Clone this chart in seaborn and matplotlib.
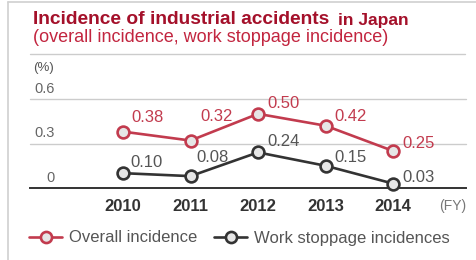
import pandas as pd
import matplotlib.pyplot as plt
import seaborn as sns
from matplotlib.lines import Line2D

years = [2010, 2011, 2012, 2013, 2014]
overall = [0.38, 0.32, 0.50, 0.42, 0.25]
stoppage = [0.10, 0.08, 0.24, 0.15, 0.03]
series_names = ["Overall incidence", "Work stoppage incidences"]
y_ticks = [0, 0.3, 0.6]

# label offsets (pixels right / up) for the value labels
overall_offsets = [(8, 14), (10, 24), (9, 10), (9, 9), (9, 7)]
stoppage_offsets = [(7, 11), (6, 19), (9, 11), (9, 8), (9, 6)]

RED = "#c23b4e"
DARK = "#333333"
FILL = "#e6e6e6"

sns.set_theme(style="white")
plt.rcParams["font.family"] = ["Liberation Sans", "DejaVu Sans"]

fig = plt.figure(figsize=(4.76, 2.6), dpi=100)
ax = fig.add_axes([30 / 476, 1 - 188 / 260, 436 / 476, 89 / 260])

df = pd.DataFrame({"year": years + years,
                   "value": overall + stoppage,
                   "series": [series_names[0]] * 5 + [series_names[1]] * 5})

for name, color in zip(series_names, [RED, DARK]):
    sub = df[df["series"] == name]
    sns.lineplot(data=sub, x="year", y="value", ax=ax, color=color,
                 linewidth=1.9, marker="o", markersize=8.5,
                 markerfacecolor=FILL, markeredgecolor=color,
                 markeredgewidth=1.9, clip_on=False, zorder=3)

to_pt = 0.72
for vals, offs, color in [(overall, overall_offsets, RED),
                          (stoppage, stoppage_offsets, "#555555")]:
    for x, v, (dx, dy) in zip(years, vals, offs):
        ax.annotate(f"{v:.2f}", (x, v), xytext=(dx * to_pt, dy * to_pt),
                    textcoords="offset points", ha="left", va="center",
                    fontsize=12, color=color)

ax.set_xlim(2010 - 93 / 67.5, 2010 + 343 / 67.5)
ax.set_ylim(0, 0.6)
for s in ["top", "right", "left"]:
    ax.spines[s].set_visible(False)
ax.spines["bottom"].set_color(DARK)
ax.spines["bottom"].set_linewidth(1.4)
for t in y_ticks[1:]:
    ax.axhline(t, color="#cccccc", linewidth=1, zorder=1, clip_on=False)

ax.set_xticks(years)
ax.set_xticklabels([str(y) for y in years], fontsize=12, fontweight="bold",
                   color=DARK)
ax.tick_params(axis="x", length=0, pad=8)
ax.set_yticks([])
ax.set_xlabel("")
ax.set_ylabel("")

for t in y_ticks:
    lab = "0" if t == 0 else f"{t:.1f}"
    ax.annotate(lab, (25 / 436, t), xycoords=ax.get_yaxis_transform(),
                xytext=(0, 2.5), textcoords="offset points",
                ha="right", va="bottom", fontsize=10.5, color="#666666")

ax.annotate("(%)", (3 / 436, 1), xycoords="axes fraction",
            xytext=(0, 22), textcoords="offset points",
            ha="left", va="center", fontsize=9.5, color="#555555")
ax.annotate("(FY)", (1, 0), xycoords="axes fraction",
            xytext=(0, -13), textcoords="offset points",
            ha="right", va="center", fontsize=10, color="#777777")

handles = [Line2D([], [], color=c, linewidth=1.9, marker="o", markersize=8,
                  markerfacecolor=FILL, markeredgecolor=c, markeredgewidth=1.9)
           for c in [RED, DARK]]
leg = fig.legend(handles, series_names, loc="center left",
                 bbox_to_anchor=(29 / 476, 1 - 238 / 260), ncol=2,
                 frameon=False, fontsize=12, handlelength=2.0,
                 handletextpad=0.4, columnspacing=1.0, borderpad=0,
                 borderaxespad=0)
for txt in leg.get_texts():
    txt.set_color("#555555")

fig.text(33 / 476, 1 - 20 / 260, "Incidence of industrial accidents",
         fontsize=13.8, fontweight="bold", color="#a4102a", va="center")
fig.text(338 / 476, 1 - 20 / 260, "in Japan",
         fontsize=12.5, fontweight="bold", color="#a4102a", va="center")
fig.text(33 / 476, 1 - 38 / 260, "(overall incidence, work stoppage incidence)",
         fontsize=13, color="#c2253f", va="center")

fig.add_artist(Line2D([30 / 476, 465 / 476], [1 - 54 / 260] * 2,
                      color="#cccccc", linewidth=1))
fig.add_artist(Line2D([8 / 476, 1], [1 - 2 / 260] * 2, color="#d0d0d0",
                      linewidth=1.2))
fig.add_artist(Line2D([8 / 476] * 2, [0, 1 - 2 / 260], color="#d0d0d0",
                      linewidth=1.2))

fig.savefig("out.png", dpi=100)
